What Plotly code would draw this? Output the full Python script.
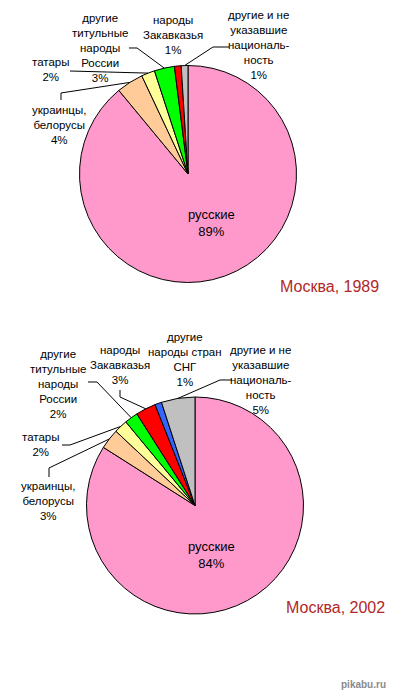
import math
import plotly.graph_objects as go

W, H = 394, 695

# ---------------- data ----------------
categories_1989 = ["русские", "украинцы, белорусы", "татары",
                   "другие титульные народы России", "народы Закавказья",
                   "другие и не указавшие национальность"]
label_text_1989 = ["русские", "украинцы,<br>белорусы", "татары",
                   "другие<br>титульные<br>народы<br>России", "народы<br>Закавказья",
                   "другие и не<br>указавшие<br>националь-<br>ность"]
values_1989 = [89, 4, 2, 3, 1, 1]

categories_2002 = ["русские", "украинцы, белорусы", "татары",
                   "другие титульные народы России", "народы Закавказья",
                   "другие народы стран СНГ",
                   "другие и не указавшие национальность"]
label_text_2002 = ["русские", "украинцы,<br>белорусы", "татары",
                   "другие<br>титульные<br>народы<br>России", "народы<br>Закавказья",
                   "другие<br>народы стран<br>СНГ",
                   "другие и не<br>указавшие<br>националь-<br>ность"]
values_2002 = [84, 3, 2, 2, 3, 1, 5]

titles = ["Москва, 1989", "Москва, 2002"]

colors_1989 = ["#FF99CC", "#FFCC99", "#FFFF99", "#00FF00", "#FF0000", "#C0C0C0"]
colors_2002 = ["#FF99CC", "#FFCC99", "#FFFF99", "#00FF00", "#FF0000", "#3366FF", "#C0C0C0"]

# ---------------- layout (pixels) ----------------
charts = [
    dict(values=values_1989, cats=categories_1989, text=label_text_1989, colors=colors_1989,
         cx=188, cy=174, r=108.5,
         label_pos=[(211, 223), (59, 125), (50, 69.5), (100, 48), (173, 35), (259, 45)],
         leaders=[None, [(61, 100), (61, 93)], [(70, 71)], [(129, 48), (137, 48)], None,
                  [(229, 47), (213, 47)]],
         title=titles[0], title_pos=(329, 287)),
    dict(values=values_2002, cats=categories_2002, text=label_text_2002, colors=colors_2002,
         cx=195, cy=505.5, r=108.5,
         label_pos=[(212, 555), (48, 501), (40, 444), (58, 384), (120, 365), (185, 359.5), (261, 380)],
         leaders=[None, [(49, 477), (49, 468)], [(62, 445), (70, 445)], [(88, 382), (97, 382)],
                  [(120, 390), (120, 397)], None, [(232, 380), (220, 380)]],
         title=titles[1], title_pos=(335, 607)),
]

FONT = "Liberation Sans, Arial, sans-serif"


def px(x):
    return x / W


def py(y):
    return 1 - y / H


fig = go.Figure()
shapes = []
annotations = []

for ch in charts:
    cx, cy, r = ch["cx"], ch["cy"], ch["r"]
    fig.add_trace(go.Pie(
        labels=ch["cats"], values=ch["values"],
        marker=dict(colors=ch["colors"], line=dict(color="black", width=1)),
        sort=False, direction="clockwise", rotation=0,
        textinfo="none", showlegend=False, hoverinfo="label+percent",
        domain=dict(x=[px(cx - r), px(cx + r)], y=[py(cy + r), py(cy - r)]),
    ))
    total = sum(ch["values"])
    cum = 0
    for i, v in enumerate(ch["values"]):
        mid = (cum + v / 2) / total
        cum += v
        th = 2 * math.pi * mid
        ex, ey = cx + r * math.sin(th), cy - r * math.cos(th)
        lx, ly = ch["label_pos"][i]
        big = (i == 0)
        annotations.append(dict(
            x=px(lx), y=py(ly), xref="paper", yref="paper",
            text=f"{ch['text'][i]}<br>{v}%", showarrow=False, align="center",
            xanchor="center", yanchor="middle",
            font=dict(family=FONT, size=13 if big else 11.5, color="black"),
        ))
        pts = ch["leaders"][i]
        if pts:
            allp = pts + [(ex, ey)]
            path = "M " + " L ".join(f"{px(a):.5f},{py(b):.5f}" for a, b in allp)
            shapes.append(dict(type="path", path=path, xref="paper", yref="paper",
                               line=dict(color="black", width=1)))
    tx, ty = ch["title_pos"]
    annotations.append(dict(
        x=px(tx), y=py(ty), xref="paper", yref="paper", text=ch["title"],
        showarrow=False, xanchor="center", yanchor="middle",
        font=dict(family=FONT, size=16, color="#B02828"),
    ))

annotations.append(dict(
    x=px(388), y=py(684), xref="paper", yref="paper", text="<b>pikabu.ru</b>",
    showarrow=False, xanchor="right", yanchor="middle",
    font=dict(family=FONT, size=10, color="#8A8A8A"),
))

fig.update_layout(
    width=W, height=H, margin=dict(l=0, r=0, t=0, b=0),
    paper_bgcolor="white", plot_bgcolor="white",
    shapes=shapes, annotations=annotations,
)

fig.write_html(
    "out.html",
    config={"displayModeBar": False},
    post_script="document.body.style.margin='0';document.body.style.overflow='hidden';",
)
